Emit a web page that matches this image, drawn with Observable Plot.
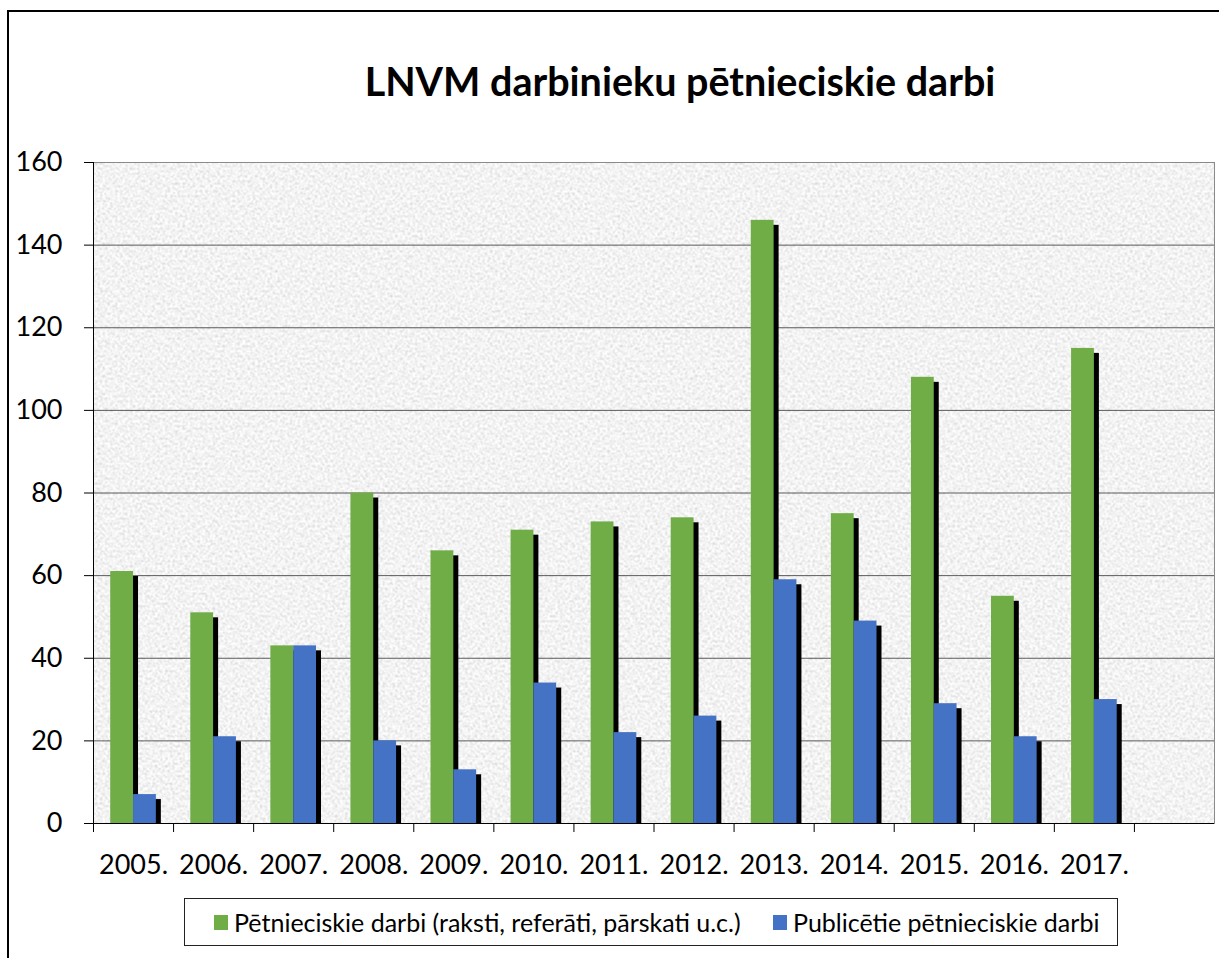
<!DOCTYPE html>
<html>
<head>
<meta charset="utf-8">
<script src="https://cdn.jsdelivr.net/npm/d3@7"></script>
<script src="https://cdn.jsdelivr.net/npm/@observablehq/plot@0.6"></script>
<style>
  html, body { margin: 0; padding: 0; background: #fff; overflow: hidden; }
  body { width: 1219px; height: 958px; position: relative; font-family: Lato, "Open Sans", sans-serif; }
  #outer { position: absolute; left: 7px; top: 10px; width: 1400px; height: 1200px; border: 2px solid #000; pointer-events: none; }
  #titlebox { position: relative; height: 140px; }
  #title { position: absolute; left: 680px; top: 57px; transform: translateX(-50%); white-space: nowrap;
           font-family: Lato, sans-serif; font-weight: 700; font-size: 39.5px; color: #000; }
  #chart svg { display: block; }
  #legend { position: relative; margin-left: 184px; margin-top: 13px; width: 932px; height: 46px; border: 1px solid #222;
            box-sizing: content-box; font-family: Lato, sans-serif; font-size: 25px; color: #000; }
  .item { position: absolute; top: 0; height: 46px; display: flex; align-items: center; white-space: nowrap; }
  .sw { width: 14px; height: 15px; margin-right: 6px; display: inline-block; }
</style>
</head>
<body>
<div id="titlebox"><div id="title">LNVM darbinieku pētnieciskie darbi</div></div>
<div id="chart"></div>
<div id="legend"></div>
<div id="outer"></div>
<script>
// ---- data ----
const years = ["2005.", "2006.", "2007.", "2008.", "2009.", "2010.", "2011.", "2012.", "2013.", "2014.", "2015.", "2016.", "2017."];
const slots = [...years, ""];            // Excel axis has one empty category at the end
const research = [61, 51, 43, 80, 66, 71, 73, 74, 146, 75, 108, 55, 115];
const published = [7, 21, 43, 20, 13, 34, 22, 26, 59, 49, 29, 21, 30];
const yTicks = [0, 20, 40, 60, 80, 100, 120, 140, 160];
const seriesNames = ["Pētnieciskie darbi (raksti, referāti, pārskati u.c.)", "Publicētie pētnieciskie darbi"];
const seriesColors = ["#70AD47", "#4472C4"];

const greenRows = years.map((y, i) => ({year: y, value: research[i]}));
const blueRows = years.map((y, i) => ({year: y, value: published[i]}));

// ---- layout ----
const W = 1219, H = 745;
const mL = 93, mR = 5, mT = 22, mB = 62;
const pInner = 0.43;
const step = (W - mL - mR) / slots.length;
const bw = step * (1 - pInner);
const half = bw / 2;
const sh = 5; // shadow offset

const chart = Plot.plot({
  width: W, height: H,
  marginLeft: mL, marginRight: mR, marginTop: mT, marginBottom: mB,
  style: {fontFamily: "Lato, 'Open Sans', sans-serif", color: "#000", background: "transparent"},
  x: {type: "band", domain: slots, paddingInner: pInner, paddingOuter: pInner / 2, round: false, label: null},
  y: {domain: [0, 160], label: null},
  marks: [
    Plot.frame({fill: "url(#granite)", stroke: "none"}),
    Plot.ruleY(yTicks.slice(1, -1), {stroke: "#5a5a5a", strokeWidth: 1}),
    // shadows
    Plot.barY(greenRows, {x: "year", y: "value", fill: "#000", insetRight: half, insetBottom: sh, dx: sh, dy: sh}),
    Plot.barY(blueRows, {x: "year", y: "value", fill: "#000", insetLeft: half, insetBottom: sh, dx: sh, dy: sh}),
    // bars
    Plot.barY(greenRows, {x: "year", y: "value", fill: seriesColors[0], insetRight: half}),
    Plot.barY(blueRows, {x: "year", y: "value", fill: seriesColors[1], insetLeft: half}),
    // plot area border (top/right gray)
    Plot.frame({stroke: "#8a8a8a", fill: "none"}),
    // axis lines
    Plot.ruleY([0], {stroke: "#000"}),
    Plot.ruleX([slots[0]], {dx: -step / 2, stroke: "#000"}),
    // x ticks at category boundaries
    Plot.ruleX(slots, {x: d => d, y1: 0, y2: 0, insetBottom: -9, dx: -step / 2, stroke: "#000"}),
    Plot.axisY({ticks: yTicks, tickSize: 9, tickPadding: 22, fontSize: 27, stroke: "#000"}),
    Plot.axisX({tickSize: 0, tickPadding: 31, fontSize: 27})
  ]
});
document.getElementById("chart").appendChild(chart);

// granite-like texture for the plot background
const svg = d3.select(chart);
const defs = svg.insert("defs", ":first-child");
const f = defs.append("filter").attr("id", "grain").attr("filterUnits", "userSpaceOnUse")
  .attr("x", 0).attr("y", 0).attr("width", W).attr("height", H);
f.append("feTurbulence").attr("type", "fractalNoise").attr("baseFrequency", 0.4).attr("numOctaves", 4).attr("seed", 7);
f.append("feColorMatrix").attr("type", "matrix")
  .attr("values", "0.65 0 0 0 0.57  0.65 0 0 0 0.57  0.65 0 0 0 0.57  0 0 0 0 1");
const pat = defs.append("pattern").attr("id", "granite").attr("patternUnits", "userSpaceOnUse")
  .attr("x", 0).attr("y", 0).attr("width", W).attr("height", H);
pat.append("rect").attr("width", W).attr("height", H).attr("filter", "url(#grain)");

// legend
const lg = document.getElementById("legend");
const lefts = [29, 588];
seriesNames.forEach((n, i) => {
  const it = document.createElement("div");
  it.className = "item";
  it.style.left = lefts[i] + "px";
  it.innerHTML = `<span class="sw" style="background:${seriesColors[i]}"></span><span>${n}</span>`;
  lg.appendChild(it);
});
</script>
</body>
</html>
